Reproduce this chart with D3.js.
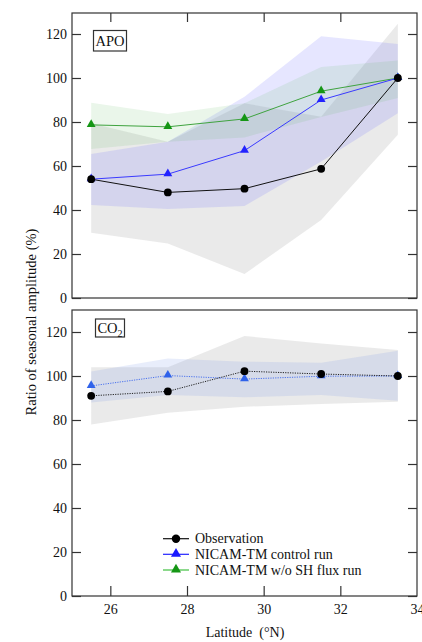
<!DOCTYPE html>
<html><head><meta charset="utf-8">
<script src="https://cdn.jsdelivr.net/npm/d3@7"></script>
<style>body{margin:0;background:#fff}svg{display:block}text{font-family:"Liberation Serif","Times New Roman",serif;fill:#111}</style>
</head><body>
<svg id="c" width="422" height="642"></svg>
<script>
// ---- data ----
const latitudes = [25.5, 27.5, 29.5, 31.5, 33.5];
const xTicks = [26, 28, 30, 32, 34];
const yTicks = [0, 20, 40, 60, 80, 100, 120];

// APO panel
const apoObs      = [54, 48, 49.7, 58.7, 100];
const apoObsLo    = [29.7, 24.8, 10.9, 35.5, 74.2];
const apoObsHi    = [79.4, 71, 88.5, 82.4, 124.7];
const apoCtrl     = [54, 56.3, 67, 90, 100];
const apoCtrlLo   = [42.3, 40.5, 41.8, 62, 84];
const apoCtrlHi   = [65.5, 71, 91.5, 119, 115.5];
const apoNoSH     = [78.7, 77.8, 81.4, 94, 100];
const apoNoSHLo   = [67.7, 71, 73, 82.3, 90.9];
const apoNoSHHi   = [88.8, 83.6, 88.5, 105, 108];

// CO2 panel
const co2Obs      = [91, 93, 102.2, 100.9, 100];
const co2ObsLo    = [78, 83.3, 86, 87.3, 88.3];
const co2ObsHi    = [104, 104, 118.2, 114.8, 111.8];
const co2Ctrl     = [95.5, 100.2, 98.6, 99.9, 100];
const co2CtrlLo   = [88, 91.4, 90.3, 91.4, 88.8];
const co2CtrlHi   = [102, 108, 106.5, 106, 111.5];

const legendLabels = ["Observation", "NICAM-TM control run", "NICAM-TM w/o SH flux run"];

// ---- layout ----
const svg = d3.select("#c");
const L = 72, R = 417;
const FS = "14px";
const x = d3.scaleLinear().domain([25, 34]).range([L, R]);
const yTop = d3.scaleLinear().domain([0, 130]).range([298, 12]);
const yBot = d3.scaleLinear().domain([0, 130]).range([596, 310]);
const axCol = "#333";

function band(g, y, lo, hi, fill, op) {
  const data = latitudes.map((d, i) => ({x: d, lo: lo[i], hi: hi[i]}));
  g.append("path").datum(data)
    .attr("d", d3.area().x(d => x(d.x)).y0(d => y(d.lo)).y1(d => y(d.hi)))
    .attr("fill", fill).attr("fill-opacity", op).attr("stroke", "none");
}
function series(g, y, vals, color, mcolor, shape, dash) {
  const data = latitudes.map((d, i) => ({x: d, v: vals[i]}));
  g.append("path").datum(data)
    .attr("d", d3.line().x(d => x(d.x)).y(d => y(d.v)))
    .attr("fill", "none").attr("stroke", color).attr("stroke-width", 1)
    .attr("stroke-dasharray", dash || null);
  const sym = d3.symbol().type(shape === "tri" ? d3.symbolTriangle : d3.symbolCircle)
    .size(shape === "tri" ? 34 : 48);
  g.selectAll(null).data(data).enter().append("path")
    .attr("d", sym)
    .attr("transform", d => `translate(${x(d.x)},${y(d.v) + (shape === "tri" ? -0.5 : 0)})`)
    .attr("fill", mcolor);
}
function frame(y, top, bottom, xTicksTop, xTicksBottom) {
  const g = svg.append("g");
  g.append("rect").attr("x", L).attr("y", top).attr("width", R - L).attr("height", bottom - top)
    .attr("fill", "none").attr("stroke", axCol).attr("stroke-width", 1.2);
  const la = d3.axisLeft(y).tickValues(yTicks).tickSizeInner(-9).tickSizeOuter(0).tickPadding(5);
  const ga = g.append("g").attr("transform", `translate(${L},0)`).call(la);
  ga.select(".domain").remove();
  ga.selectAll("line").attr("stroke", axCol).attr("stroke-width", 1.2);
  ga.selectAll("text").style("font-family", "Liberation Serif").style("font-size", FS).attr("fill", "#111");
  const ra = d3.axisRight(y).tickValues(yTicks).tickSizeInner(-9).tickSizeOuter(0).tickFormat("");
  const gr = g.append("g").attr("transform", `translate(${R},0)`).call(ra);
  gr.select(".domain").remove();
  gr.selectAll("line").attr("stroke", axCol).attr("stroke-width", 1.2);
  if (xTicksTop) {
    const ta = d3.axisTop(x).tickValues(xTicks.slice(0, 4)).tickSizeInner(-9).tickSizeOuter(0).tickFormat("");
    const gt = g.append("g").attr("transform", `translate(0,${top})`).call(ta);
    gt.select(".domain").remove();
    gt.selectAll("line").attr("stroke", axCol).attr("stroke-width", 1.2);
  }
  if (xTicksBottom) {
    const ba = d3.axisBottom(x).tickValues(xTicks).tickSizeInner(-10).tickSizeOuter(0).tickPadding(8);
    const gb = g.append("g").attr("transform", `translate(0,${bottom})`).call(ba);
    gb.select(".domain").remove();
    gb.selectAll("line").attr("stroke", axCol).attr("stroke-width", 1.2)
      .attr("opacity", d => d === 34 ? 0 : 1);
    gb.selectAll("text").style("font-family", "Liberation Serif").style("font-size", FS).attr("fill", "#111");
  }
  return g;
}

// ---- top panel (APO) ----
const gT = svg.append("g");
band(gT, yTop, apoObsLo, apoObsHi, "#bdbdbd", 0.32);
band(gT, yTop, apoCtrlLo, apoCtrlHi, "#6a6aff", 0.17);
band(gT, yTop, apoNoSHLo, apoNoSHHi, "#5cb85c", 0.13);
series(gT, yTop, apoNoSH, "#3fa33f", "#159615", "tri");
series(gT, yTop, apoCtrl, "#3a3aff", "#2222ff", "tri");
series(gT, yTop, apoObs, "#111", "#000", "circ");
frame(yTop, 13, 298, true, false);

// ---- bottom panel (CO2) ----
const gB = svg.append("g");
band(gB, yBot, co2ObsLo, co2ObsHi, "#bdbdbd", 0.32);
band(gB, yBot, co2CtrlLo, co2CtrlHi, "#6f8fe8", 0.16);
series(gB, yBot, co2Ctrl, "#4a72ee", "#2f62ea", "tri", "1.2,1.2");
series(gB, yBot, co2Obs, "#222", "#000", "circ", "1.2,1.2");
frame(yBot, 310, 596, false, true);

// panel labels
function boxLabel(bx, by, w, h, parts) {
  svg.append("rect").attr("x", bx).attr("y", by).attr("width", w).attr("height", h)
    .attr("fill", "#fff").attr("stroke", "#333").attr("stroke-width", 1.2);
  const t = svg.append("text").attr("x", bx + w / 2).attr("y", by + h / 2 + 5)
    .attr("text-anchor", "middle").style("font-size", "14.5px");
  parts.forEach(p => {
    const s = t.append("tspan").text(p.t);
    if (p.sub) s.attr("dy", 4).style("font-size", "10px");
  });
}
boxLabel(93.5, 30.5, 33, 20.5, [{t: "APO"}]);
boxLabel(95.5, 319, 29, 18, [{t: "CO"}, {t: "2", sub: true}]);

// legend
const lg = svg.append("g");
const legX0 = 163, legX1 = 189, legTx = 195;
const legY = [538.7, 554.3, 570];
const legLine = ["#111", "#2222ff", "#3fbf3f"];
const legMark = ["#000", "#1a1aff", "#159615"];
legendLabels.forEach((lab, i) => {
  lg.append("line").attr("x1", legX0).attr("x2", legX1).attr("y1", legY[i]).attr("y2", legY[i])
    .attr("stroke", legLine[i]).attr("stroke-width", 1.2);
  lg.append("path").attr("d", d3.symbol().type(i === 0 ? d3.symbolCircle : d3.symbolTriangle).size(i === 0 ? 56 : 44))
    .attr("transform", `translate(${(legX0 + legX1) / 2},${legY[i] - (i === 0 ? 0 : 0.5)})`)
    .attr("fill", legMark[i]);
  lg.append("text").attr("x", legTx).attr("y", legY[i] + 4.5).style("font-size", FS).text(lab);
});

// axis titles
svg.append("text").attr("x", 245).attr("y", 637).attr("text-anchor", "middle")
  .style("font-size", FS).style("white-space", "pre").text("Latitude  (°N)");
svg.append("text").attr("transform", "translate(36,322) rotate(-90)").attr("text-anchor", "middle")
  .style("font-size", "14.5px").text("Ratio of seasonal amplitude (%)");
</script>
</body></html>
